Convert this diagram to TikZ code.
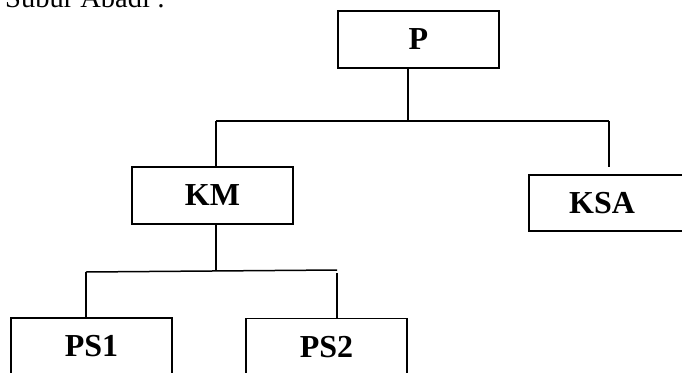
\documentclass[tikz,border=0pt]{standalone}
\usepackage{fontspec}
\setmainfont{Liberation Serif}
\begin{document}
\begin{tikzpicture}[x=1pt,y=-1pt,
  box/.style={draw,line width=1.4pt,rectangle,inner sep=0pt,minimum width=161pt,minimum height=57pt,
    font=\bfseries\fontsize{32}{34}\selectfont},
  conn/.style={line width=1.5pt}]
\useasboundingbox (0,0) rectangle (682,372);
\clip (0,0) rectangle (682,372);
\node[anchor=base west,inner sep=0pt,font=\fontsize{28.5}{30}\selectfont] (title) at (5,8) {Subur Abadi :};
\node[box] (P) at (418.5,39.5) {P};
\node[box] (KM) at (212.5,195.5) {KM};
\node[box,minimum height=56pt] (KSA) at (609.5,203) {\hspace*{-15pt}KSA};
\node[box] (PS1) at (91.5,346.5) {PS1};
\node[box] (PS2) at (326.5,347) {PS2};
\coordinate (j1) at (408,121);
\coordinate (jl) at (216,121);
\coordinate (jr) at (609,121);
\coordinate (kr) at (609,167);
\coordinate (j2) at (216,271);
\coordinate (j2l) at (86,272);
\coordinate (j2r) at (337,270);
\coordinate (j2r2) at (337,273);
\draw[conn] (P.south -| j1) -- (j1);
\draw[conn] (jl) -- (jr);
\draw[conn] (jl) -- (KM.north -| jl);
\draw[conn] (jr) -- (kr);
\draw[conn] (KM.south -| j2) -- (j2);
\draw[conn] (j2l) -- (j2r);
\draw[conn] (j2l) -- (PS1.north -| j2l);
\draw[conn] (j2r2) -- (PS2.north -| j2r2);
\end{tikzpicture}
\end{document}
